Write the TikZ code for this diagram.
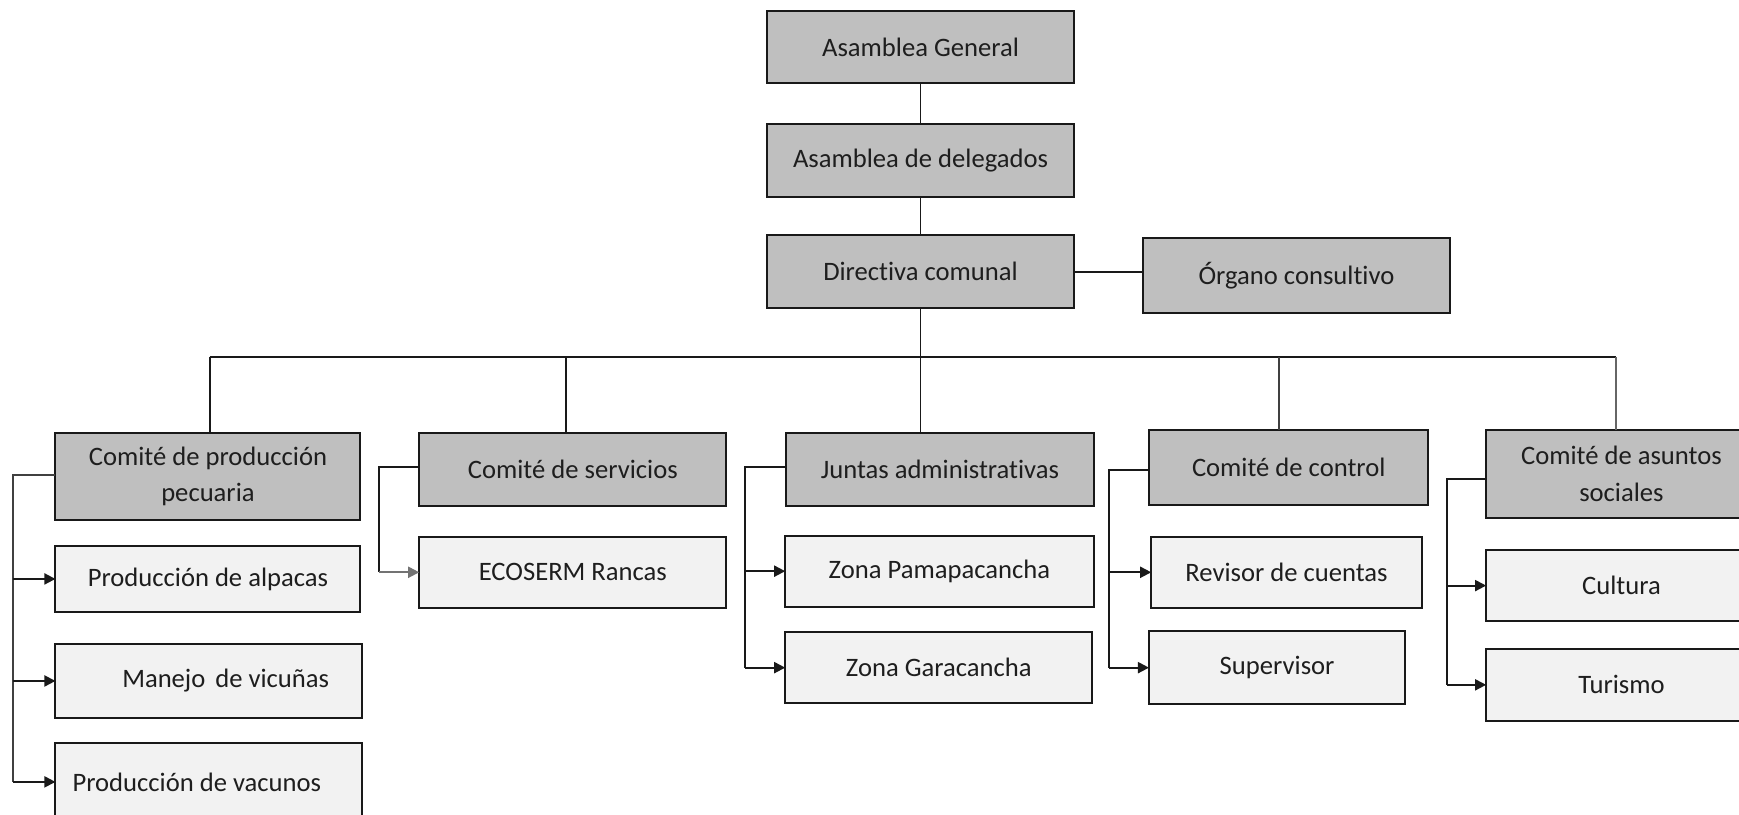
\documentclass[tikz,border=0pt]{standalone}
\usepackage{fontspec}
\setmainfont{Carlito}[Ligatures=NoCommon]
\usetikzlibrary{arrows.meta}
\definecolor{darkbox}{RGB}{191,191,191}
\definecolor{lightbox}{RGB}{242,242,242}
\definecolor{txt}{RGB}{30,30,30}
\tikzset{
  boxbase/.style={draw=black!90, line width=1.8pt, inner sep=0pt, outer sep=0pt, text=txt,
    font=\fontsize{24}{33}\selectfont, align=center},
  dbox/.style={boxbase, fill=darkbox},
  lbox/.style={boxbase, fill=lightbox},
  conn/.style={line width=1.7pt, black!90},
  arr/.style={conn, -{Triangle[length=10pt,width=10pt]}}
}
\begin{document}
\begin{tikzpicture}[x=1pt,y=-1pt]
\useasboundingbox (0,0) rectangle (1568,734);
% top chain
\node[dbox, minimum width=276pt, minimum height=65pt] (AG) at (830,42.5) {Asamblea General};
\node[dbox, minimum width=276pt, minimum height=66pt] (AD) at (830,145) {Asamblea de delegados};
\node[dbox, minimum width=276pt, minimum height=66pt] (DC) at (830,245) {Directiva comunal};
\node[dbox, minimum width=276pt, minimum height=67pt] (OC) at (1169,248.5) {Órgano consultivo};
% committees
\node[dbox, minimum width=275pt, minimum height=79pt] (CP) at (187.5,429.5) {Comité de producción\\pecuaria};
\node[dbox, minimum width=277pt, minimum height=66pt] (CS) at (516.5,423) {Comité de servicios};
\node[dbox, minimum width=277pt, minimum height=66pt] (JA) at (847.5,423) {Juntas administrativas};
\node[dbox, minimum width=252pt, minimum height=67pt] (CC) at (1162,421.5) {Comité de control};
\node[dbox, minimum width=244pt, minimum height=79pt] (CAS) at (1462,427.5) {Comité de asuntos\\sociales};
% children
\node[lbox, minimum width=275pt, minimum height=60pt] (PA) at (187.5,522) {Producción de alpacas};
\node[lbox, minimum width=276pt, minimum height=66pt] (MV) at (188,614) {\hspace*{31pt}Manejo\hspace{9pt}de vicuñas};
\node[lbox, minimum width=276pt, minimum height=70pt] (PV) at (188,705) {Producción de vacunos\hspace*{21pt}};
\node[lbox, minimum width=277pt, minimum height=64pt] (ER) at (516.5,516) {ECOSERM Rancas};
\node[lbox, minimum width=278pt, minimum height=64pt] (ZP) at (847,515) {Zona Pamapacancha};
\node[lbox, minimum width=277pt, minimum height=64pt] (ZG) at (846.5,602) {Zona Garacancha};
\node[lbox, minimum width=244pt, minimum height=64pt] (RC) at (1160,516) {Revisor de cuentas};
\node[lbox, minimum width=231pt, minimum height=66pt] (SU) at (1151.5,602) {Supervisor};
\node[lbox, minimum width=244pt, minimum height=64pt] (CU) at (1462,528) {Cultura};
\node[lbox, minimum width=244pt, minimum height=65pt] (TU) at (1462,617.5) {Turismo};
% top connectors
\draw[conn] (AG.south) -- (AD.north);
\draw[conn] (AD.south) -- (DC.north);
\draw[conn] (DC.east) -- (DC.east -| OC.west);
% bus
\coordinate (d1) at (189,322);
\coordinate (d2) at (510,322);
\coordinate (d3) at (830,322);
\coordinate (d4) at (1153,322);
\coordinate (d5) at (1457,322);
\draw[conn] (DC.south) -- (DC.south |- JA.north);
\draw[conn] (d1) -- (d5);
\draw[conn] (d1) -- (d1 |- CP.north);
\draw[conn] (d2) -- (d2 |- CS.north);
\draw[conn, black!75] (d4) -- (d4 |- CC.north);
\draw[conn, black!60] (d5) -- (d5 |- CAS.north);
% brackets
\coordinate (b1) at (12,428);
\draw[conn, black!75] (CP.west |- b1) -- (b1) -- (b1 |- PV.west);
\draw[arr] (b1 |- PA.west) -- (PA.west);
\draw[arr] (b1 |- MV.west) -- (MV.west);
\draw[arr] (b1 |- PV.west) -- (PV.west);
\coordinate (b2) at (342,421);
\draw[conn] (CS.west |- b2) -- (b2) -- (b2 |- ER.west);
\draw[arr, black!55] (b2 |- ER.west) -- (ER.west);
\coordinate (b3) at (672,421);
\draw[conn] (JA.west |- b3) -- (b3) -- (b3 |- ZG.west);
\draw[arr] (b3 |- ZP.west) -- (ZP.west);
\draw[arr] (b3 |- ZG.west) -- (ZG.west);
\coordinate (b4) at (1000,424);
\draw[conn] (CC.west |- b4) -- (b4) -- (b4 |- SU.west);
\draw[arr] (b4 |- RC.west) -- (RC.west);
\draw[arr] (b4 |- SU.west) -- (SU.west);
\coordinate (b5) at (1305,432);
\draw[conn] (CAS.west |- b5) -- (b5) -- (b5 |- TU.west);
\draw[arr] (b5 |- CU.west) -- (CU.west);
\draw[arr] (b5 |- TU.west) -- (TU.west);
\end{tikzpicture}
\end{document}
